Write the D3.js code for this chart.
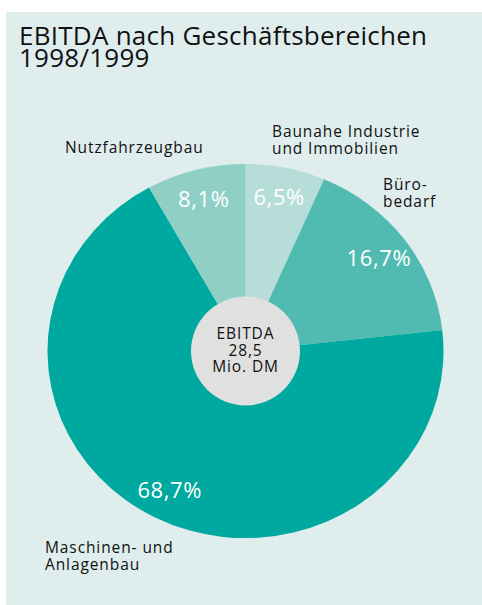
<!DOCTYPE html>
<html>
<head>
    <meta charset="utf-8">
    <title>EBITDA nach Geschäftsbereichen</title>
    <style>
        body { margin: 0; background: #fff; }
        text { font-family: 'Open Sans', 'Noto Sans', sans-serif; }
    </style>
</head>
<body>
<div id="chart"></div>
<script src="https://cdn.jsdelivr.net/npm/d3@7/dist/d3.min.js"></script>
<script>

    // Segments clockwise from 12 o'clock
    let segments = ['Baunahe Industrie und Immobilien', 'Bürobedarf', 'Maschinen- und Anlagenbau', 'Nutzfahrzeugbau'];
    let shares = [6.5, 16.7, 68.7, 8.1];
    let shareLabels = ['6,5%', '16,7%', '68,7%', '8,1%'];
    let segmentColors = ['#b7ddd9', '#51bbb2', '#00a99f', '#8fcfc6'];

    let titleLines = ['EBITDA nach Geschäftsbereichen', '1998/1999'];
    let centerLines = ['EBITDA', '28,5', 'Mio. DM'];
    // category names as printed, split in lines
    let nameLines = [
        ['Baunahe Industrie', 'und Immobilien'],
        ['Büro-', 'bedarf'],
        ['Maschinen- und', 'Anlagenbau'],
        ['Nutzfahrzeugbau']
    ];

    function translate(x, y) {
      return 'translate(' + x + ', ' + y + ')';
    }

    let svgWidth = 482;
    let svgHeight = 605;
    let cx = 245.5, cy = 351;
    let radius = 198;
    let squash = 0.945;   // pie is printed slightly flattened
    let holeRadius = 54.5;

    // where the outside names sit (left x, first baseline)
    let namePos = [
        {x: 272, y: 137},
        {x: 383, y: 190},
        {x: 45, y: 553},
        {x: 65, y: 153}
    ];

    let svg = d3.select('#chart')
      .append('svg')
        .attr('width', svgWidth)
        .attr('height', svgHeight);

    svg.append('rect')
        .attr('x', 6)
        .attr('y', 12)
        .attr('width', svgWidth - 6)
        .attr('height', svgHeight - 12)
        .style('fill', '#dfeeed');

    svg.selectAll('.title')
      .data(titleLines)
      .enter()
      .append('text')
        .attr('class', 'title')
        .attr('x', 19)
        .attr('y', (d, i) => 45 + i * 22)
        .style('font-size', '26px')
        .style('letter-spacing', '0.25px')
        .style('fill', '#111')
        .text(d => d);

    let pie = d3.pie()
        .sort(null)
        .value(d => d);

    let arcs = pie(shares);

    let arc = d3.arc()
        .innerRadius(0)
        .outerRadius(radius);

    let labelArc = d3.arc()
        .innerRadius(166)
        .outerRadius(166);

    let g = svg.append('g')
        .attr('transform', translate(cx, cy));

    g.append('g')
        .attr('transform', 'scale(1,' + squash + ')')
      .selectAll('path')
      .data(arcs)
      .enter()
      .append('path')
        .attr('d', arc)
        .style('fill', (d, i) => segmentColors[i]);

    g.selectAll('.pct')
      .data(arcs)
      .enter()
      .append('text')
        .attr('class', 'pct')
        .attr('x', d => labelArc.centroid(d)[0])
        .attr('y', d => labelArc.centroid(d)[1] * squash)
        .attr('dy', '0.36em')
        .style('text-anchor', 'middle')
        .style('font-size', '22px')
        .style('letter-spacing', '0.6px')
        .style('fill', '#fff')
        .text((d, i) => shareLabels[i]);

    g.append('circle')
        .attr('r', holeRadius)
        .style('fill', '#e0e0e0');

    g.selectAll('.center')
      .data(centerLines)
      .enter()
      .append('text')
        .attr('class', 'center')
        .attr('y', (d, i) => -12 + i * 16.5)
        .style('text-anchor', 'middle')
        .style('font-size', '15.5px')
        .style('letter-spacing', '0.9px')
        .style('fill', '#111')
        .text(d => d);

    let names = svg.selectAll('.name')
      .data(nameLines)
      .enter()
      .append('text')
        .attr('class', 'name')
        .attr('transform', (d, i) => translate(namePos[i].x, namePos[i].y))
        .style('font-size', '15.5px')
        .style('letter-spacing', '0.9px')
        .style('fill', '#111');

    names.selectAll('tspan')
      .data(d => d)
      .enter()
      .append('tspan')
        .attr('x', 0)
        .attr('y', (d, i) => i * 16.5)
        .text(d => d);

</script>
</body>
</html>
